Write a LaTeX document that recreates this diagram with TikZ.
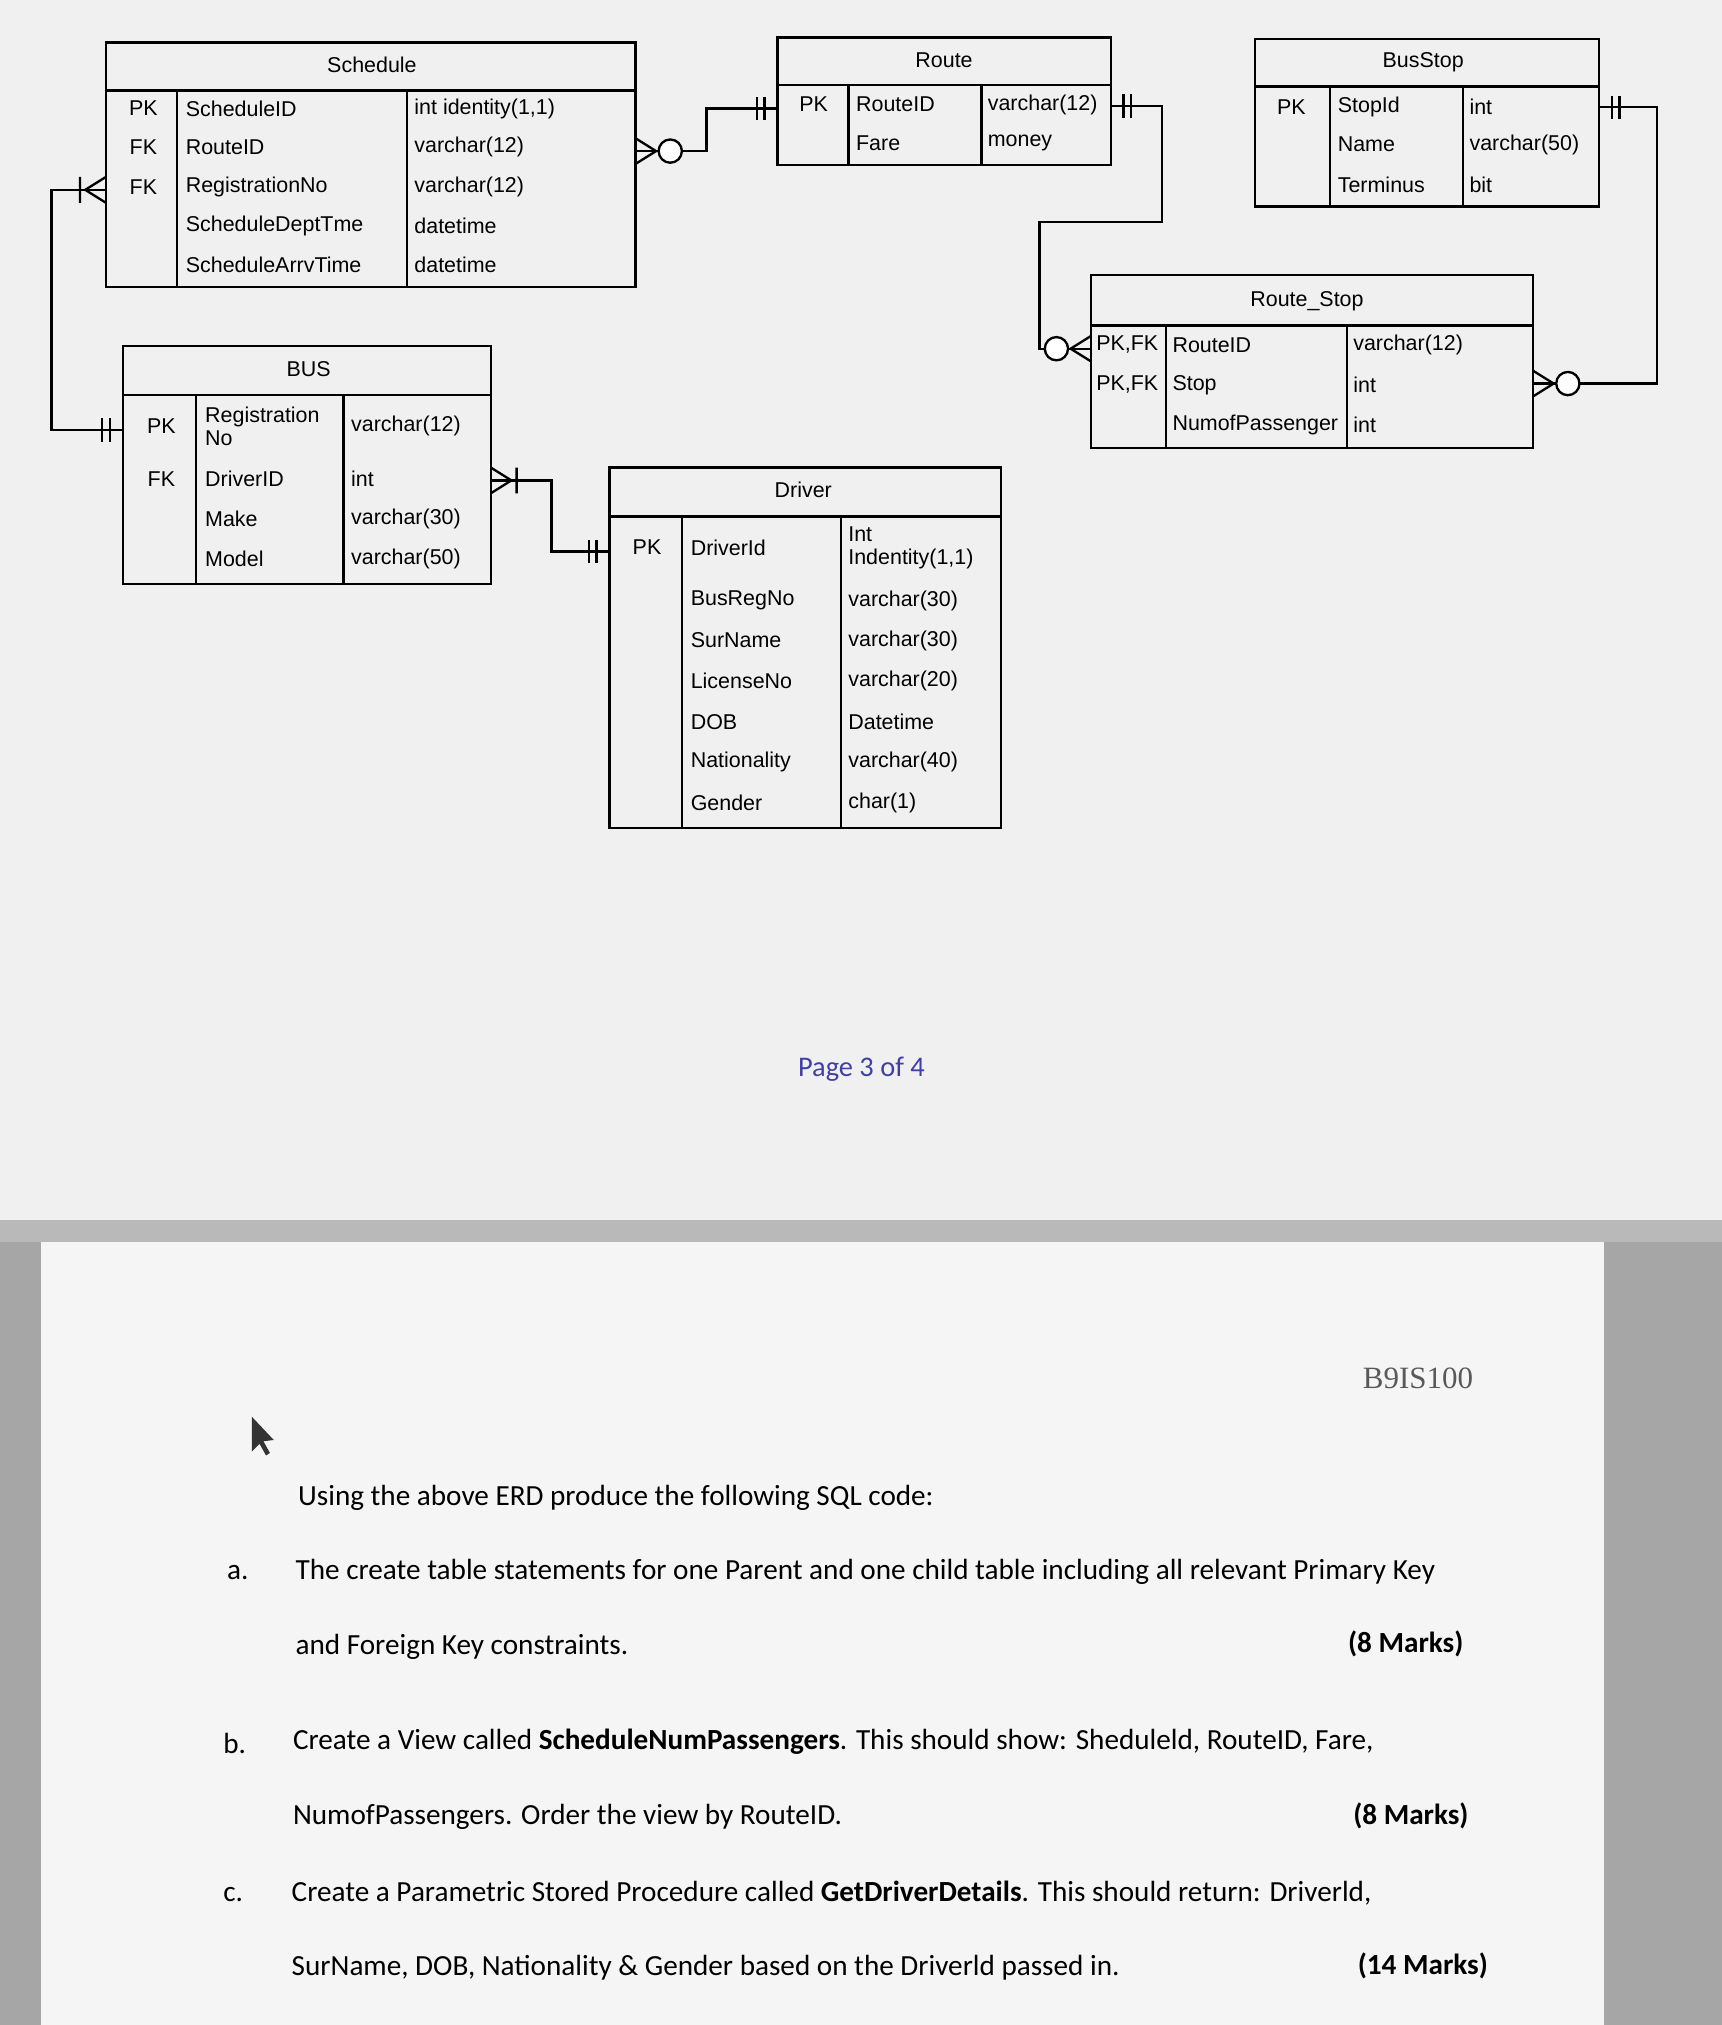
\documentclass[tikz,border=0pt]{standalone}
\usepackage{fontspec}
\setmainfont{Liberation Sans}
\newfontfamily\carl{Carlito}
\newfontfamily\myser{Liberation Serif}
\newcommand\mone[2]{\begin{scope}[shift={#1},rotate=#2]\draw (10,-9)--(10,9) (16,-9)--(16,9);\end{scope}}
\newcommand\mzm[2]{\begin{scope}[shift={#1},rotate=#2]\draw (0,-10)--(16,0)--(0,10);\draw[fill=white] (27,0) circle[radius=9];\end{scope}}
\newcommand\mom[2]{\begin{scope}[shift={#1},rotate=#2]\draw (0,-10)--(16,0)--(0,10) (20,-10)--(20,10);\end{scope}}
\begin{document}
\begin{tikzpicture}[x=0.5pt,y=-0.5pt,line width=0.9pt,
  t/.style={anchor=west,font=\fontsize{8.3}{9}\selectfont,inner sep=0},
  c/.style={font=\fontsize{8.3}{9}\selectfont,inner sep=0},
  q/.style={anchor=west,font=\carl\fontsize{11.3}{12}\selectfont,inner sep=0},
  qb/.style={anchor=east,font=\carl\bfseries\fontsize{11.3}{12}\selectfont,inner sep=0}]
\useasboundingbox (0,0) rectangle (1333,1568);
\fill[gray!70] (0,0) rectangle (1333,1568);
\fill[gray!12] (0,0) rectangle (1333,945);
\fill[gray!55] (0,945) rectangle (1333,962);
\fill[gray!8] (32,962) rectangle (1242,1568);
% Schedule
\draw (82,33) rectangle (492,222); \draw (82,70)--(492,70) (137,70)--(137,222) (315,70)--(315,222);
\node[c] (sch) at (288,50) {Schedule};
\foreach \y/\k/\n/\ty in {84/PK/ScheduleID/int identity(1{,}1),114/FK/RouteID/varchar(12),145/FK/RegistrationNo/varchar(12),175//ScheduleDeptTme/datetime,205//ScheduleArrvTime/datetime}{
 \node[c] at (111,\y) {\k}; \node[t] at (143,\y) {\n}; \node[t] at (320,\y) {\ty};}
% Route
\draw (602,29) rectangle (860,128); \draw (602,66)--(860,66) (657,66)--(657,128) (760,66)--(760,128);
\node[c] (rt) at (731,47) {Route};
\node[c] at (630,81) {PK}; \node[t] at (662,81) {RouteID}; \node[t] at (764,81) {varchar(12)};
\node[t] at (662,111) {Fare}; \node[t] at (764,111) {money};
% BusStop
\draw (972,30) rectangle (1238,160); \draw (972,67)--(1238,67) (1030,67)--(1030,160) (1133,67)--(1133,160);
\node[c] (bs) at (1102,48) {BusStop};
\node[c] at (1000,83) {PK};
\foreach \y/\n/\ty in {83/StopId/int,112/Name/varchar(50),143/Terminus/bit}{\node[t] at (1035,\y) {\n}; \node[t] at (1137,\y) {\ty};}
% Route_Stop
\draw (845,213) rectangle (1187,347); \draw (845,252)--(1187,252) (903,252)--(903,347) (1043,252)--(1043,347);
\node[c] (rs) at (1012,233) {Route\_Stop};
\foreach \y/\k/\n/\ty in {267/{PK,FK}/RouteID/varchar(12),298/{PK,FK}/Stop/int,329//NumofPassenger/int}{
 \node[t] at (848,\y) {\k}; \node[t] at (907,\y) {\n}; \node[t] at (1047,\y) {\ty};}
% BUS
\draw (95,268) rectangle (380,452); \draw (95,306)--(380,306) (152,306)--(152,452) (266,306)--(266,452);
\node[c] (bus) at (239,286) {BUS};
\node[c] at (125,330) {PK}; \node[t,align=left] at (158,330) {Registration\\No}; \node[t] at (271,330) {varchar(12)};
\node[c] at (125,371) {FK};
\foreach \y/\n/\ty in {371/DriverID/int,402/Make/varchar(30),433/Model/varchar(50)}{\node[t] at (158,\y) {\n}; \node[t] at (271,\y) {\ty};}
% Driver
\draw (472,362) rectangle (775,641); \draw (472,400)--(775,400) (528,400)--(528,641) (651,400)--(651,641);
\node[c] (drv) at (622,379) {Driver};
\node[c] at (501,424) {PK}; \node[t] at (534,424) {DriverId}; \node[t,align=left] at (656,424) {Int\\Indentity(1{,}1)};
\foreach \y/\n/\ty in {465/BusRegNo/varchar(30),496/SurName/varchar(30),527/LicenseNo/varchar(20),559/DOB/Datetime,590/Nationality/varchar(40),622/Gender/char(1)}{\node[t] at (534,\y) {\n}; \node[t] at (656,\y) {\ty};}
% connectors
\coordinate (a1) at (492,117); \coordinate (a2) at (602,84);
\draw (a1)--(547,117)--(547,84)--(a2); \mzm{(a1)}{0} \mone{(a2)}{180}
\coordinate (b1) at (860,82); \coordinate (b2) at (845,270);
\draw (b1)--(900,82)--(900,172)--(805,172)--(805,270)--(b2); \mone{(b1)}{0} \mzm{(b2)}{180}
\coordinate (c1) at (1238,83); \coordinate (c2) at (1187,297);
\draw (c1)--(1283,83)--(1283,297)--(c2); \mone{(c1)}{0} \mzm{(c2)}{0}
\coordinate (d1) at (82,147); \coordinate (d2) at (95,333);
\draw (d1)--(40,147)--(40,333)--(d2); \mom{(d1)}{180} \mone{(d2)}{180}
\coordinate (e1) at (380,372); \coordinate (e2) at (472,427);
\draw (e1)--(427,372)--(427,427)--(e2); \mom{(e1)}{0} \mone{(e2)}{180}
\node[font=\carl\fontsize{11}{12}\selectfont,text=blue!45!gray!90!black] (pg) at (667,828) {Page 3 of 4};
% bottom sheet
\node[font=\myser\fontsize{12}{13}\selectfont,text=gray!70!black] (code) at (1098,1067) {B9IS100};
\fill[black!80] (195,1097)--(195,1124)--(201,1118)--(206,1127)--(209,1125)--(204,1116)--(212,1115)--cycle;
\node[q] (u) at (230,1160) {Using the above ERD produce the following SQL code:};
\node[q] (la) at (175,1218) {a.}; \node[q] (ta) at (228,1217) {The create table statements for one Parent and one child table including all relevant Primary Key};
\node[q] (ta2) at (228,1275) {and Foreign Key constraints.}; \node[qb] (ma) at (1134,1273) {(8 Marks)};
\node[q] (lb) at (172,1350) {b.}; \node[q] (tb) at (226,1349) {Create a View called \textbf{ScheduleNumPassengers}. This should show: Sheduleld, RouteID, Fare,};
\node[q] (tb2) at (226,1407) {NumofPassengers. Order the view by RouteID.}; \node[qb] (mb) at (1138,1406) {(8 Marks)};
\node[q] (lc) at (172,1467) {c.}; \node[q] (tc) at (225,1466) {Create a Parametric Stored Procedure called \textbf{GetDriverDetails}. This should return: Driverld,};
\node[q] (tc2) at (225,1524) {SurName, DOB, Nationality \& Gender based on the Driverld passed in.}; \node[qb] (mc) at (1153,1522) {(14 Marks)};
\end{tikzpicture}
\end{document}
